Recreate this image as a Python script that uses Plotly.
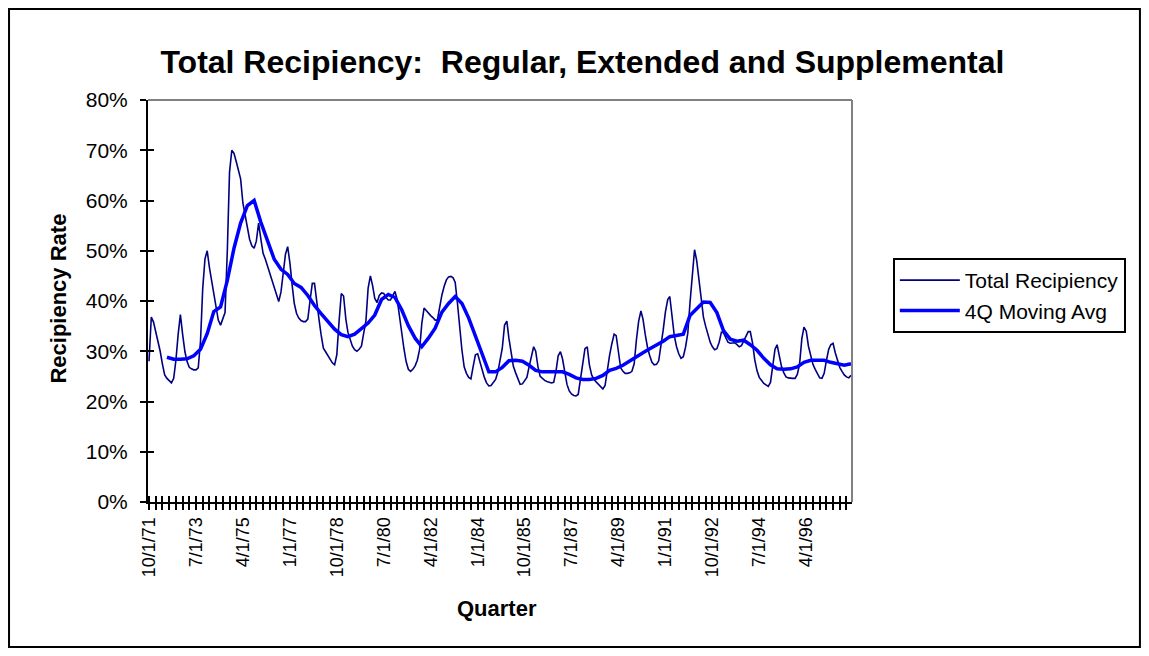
import pandas as pd
import plotly.graph_objects as go

# Monthly total recipiency rate (%), starting Oct 1971
total = [
    28.0, 36.8, 35.8, 34.0, 32.0, 30.0, 27.4, 25.3, 24.6, 24.1, 23.7, 24.6,
    28.2, 33.4, 37.3, 33.3, 29.9, 28.0, 26.8, 26.5, 26.3, 26.3, 26.7, 32.0,
    42.5, 48.4, 50.0, 46.6, 43.8, 41.5, 38.8, 36.2, 35.2, 36.6, 37.7, 50.0,
    65.6, 70.0, 69.4, 67.7, 65.7, 64.3, 59.5, 57.0, 55.0, 52.3, 51.0, 50.5,
    51.9, 55.5, 52.4, 49.5, 48.3, 46.9, 45.4, 44.0, 42.6, 41.1, 39.9, 41.8,
    46.0, 49.3, 50.8, 47.5, 43.0, 39.5, 37.5, 36.6, 36.1, 35.9, 35.9, 36.4,
    40.0, 43.5, 43.5, 39.2, 36.3, 33.3, 30.6, 29.9, 29.2, 28.6, 27.7, 27.3,
    29.3, 36.0, 41.5, 41.0, 36.4, 33.8, 32.1, 31.0, 30.3, 30.0, 30.4, 31.0,
    33.5, 36.0, 42.5, 45.0, 43.0, 40.5, 39.7, 41.1, 41.6, 41.5, 40.7, 40.2,
    40.2, 41.1, 41.9, 40.2, 36.5, 33.3, 30.6, 28.0, 26.4, 26.0, 26.4, 27.1,
    28.2, 30.3, 35.5, 38.6, 38.0, 37.6, 37.1, 36.7, 36.2, 36.2, 38.8, 41.2,
    42.9, 44.2, 44.8, 44.9, 44.6, 43.7, 39.5, 34.5, 30.2, 26.9, 25.6, 24.8,
    24.5, 27.0, 29.3, 29.5, 27.9, 26.2, 24.8, 23.7, 23.1, 23.2, 23.7, 24.4,
    25.8, 27.9, 30.6, 35.2, 36.0, 32.6, 29.4, 27.0, 25.7, 24.5, 23.4, 23.5,
    24.1, 24.8, 26.9, 29.0, 30.9, 30.0, 26.9, 25.0, 24.5, 24.2, 24.0, 23.9,
    23.7, 23.8, 25.9, 29.1, 29.9, 28.5, 25.7, 23.4, 22.1, 21.5, 21.2, 21.1,
    21.4, 24.5, 28.1, 30.5, 30.9, 27.3, 25.3, 24.4, 23.9, 23.5, 23.0, 22.5,
    23.2, 26.4, 29.2, 31.5, 33.4, 33.1, 29.6, 26.7, 26.0, 25.6, 25.6, 25.7,
    26.0, 27.5, 32.2, 36.0, 38.0, 36.4, 33.3, 30.8, 29.1, 27.8, 27.3, 27.4,
    28.1, 30.8, 34.2, 37.9, 40.3, 40.9, 36.9, 33.1, 30.9, 29.5, 28.6, 28.9,
    30.8, 33.6, 39.6, 45.6, 50.2, 48.1, 44.2, 40.3, 36.8, 35.0, 33.3, 31.8,
    30.9, 30.3, 30.5, 31.8, 33.8, 33.7, 32.7, 31.8, 31.6, 31.6, 31.7, 31.3,
    30.9, 31.1, 32.1, 33.0, 33.9, 33.9, 31.6, 28.3, 26.1, 24.8, 24.2, 23.6,
    23.3, 23.0, 23.8, 26.8, 30.4, 31.3, 29.2, 26.9, 25.7, 24.9, 24.7, 24.6,
    24.6, 24.6, 25.4, 27.4, 32.5, 34.8, 34.0, 31.0, 28.9, 27.4, 26.4, 25.4,
    24.7, 24.6, 25.6, 28.2, 30.4, 31.3, 31.6, 29.7, 28.0, 26.8, 26.0, 25.3,
    24.9, 24.7, 25.2,
]

# 4Q moving average (%), read every third month starting Jun 1972
moving_avg = [
    28.8, 28.4, 28.4, 28.5, 29.1, 30.4, 33.5, 37.9, 38.8, 44.1,
    50.5, 55.5, 59.0, 60.0, 55.7, 51.9, 48.3, 46.3, 45.3, 43.5,
    42.7, 41.1, 39.1, 37.5, 35.9, 34.4, 33.3, 32.9, 33.4, 34.6,
    35.6, 37.2, 40.3, 41.3, 40.7, 38.3, 35.1, 32.6, 30.9, 32.6,
    34.6, 37.8, 39.5, 40.9, 39.5, 36.6, 33.2, 29.4, 25.9, 25.9,
    26.8, 28.1, 28.2, 28.0, 27.2, 26.2, 25.9, 25.9, 25.9, 25.9,
    25.4, 24.7, 24.4, 24.4, 24.6, 25.2, 26.2, 26.6, 27.2, 28.1,
    28.9, 29.7, 30.5, 31.2, 32.0, 32.9, 33.2, 33.4, 37.1, 38.4,
    39.8, 39.7, 37.7, 34.1, 32.4, 32.0, 32.2, 31.3, 30.2, 28.6,
    27.3, 26.5, 26.4, 26.5, 26.9, 27.8, 28.2, 28.2, 28.2, 27.8,
    27.5, 27.2, 27.5,
]

months = pd.date_range("1971-10-01", periods=len(total), freq="MS")
ma_dates = months[8::3][:len(moving_avg)]

# quarterly tick marks, a label every 7th quarter
quarter_ticks = list(months[::3])
tick_text = [f"{d.month}/{d.day}/{d:%y}" if k % 7 == 0 else "" for k, d in enumerate(quarter_ticks)]
y_ticks = list(range(0, 90, 10))
y_text = [f"{v}%" for v in y_ticks]

FONT = "Liberation Sans, Arial, sans-serif"
x_range = [months[0] - pd.Timedelta(days=14), months[-1] + pd.Timedelta(days=14)]

fig = go.Figure()
fig.add_trace(go.Scatter(x=months, y=total, mode="lines", name="Total Recipiency",
                         line=dict(color="#000080", width=1.6)))
fig.add_trace(go.Scatter(x=ma_dates, y=moving_avg, mode="lines", name="4Q Moving Avg",
                         line=dict(color="#0000FF", width=3.5)))
# helper trace so the overlay axes (inner half of the crossing ticks) get drawn
fig.add_trace(go.Scatter(x=[months[0]], y=[None], xaxis="x2", yaxis="y2",
                         showlegend=False, hoverinfo="skip"))

# the page body has an 8px margin; keep the figure inside the window
W, H = 1133, 640
fig.update_layout(
    width=W, height=H,
    margin=dict(l=140, r=289, t=92, b=146),
    paper_bgcolor="white", plot_bgcolor="white",
    font=dict(family=FONT, color="black", size=18),
    title=dict(text="<b>Total Recipiency:  Regular, Extended and Supplemental</b>",
               x=0.507, xanchor="center", y=1 - 54 / H, yanchor="middle",
               font=dict(size=32, family=FONT, color="black")),
    xaxis=dict(type="date", range=x_range, tickvals=quarter_ticks, ticktext=tick_text,
               tickangle=-90, ticks="outside", ticklen=6, tickwidth=2, tickcolor="black",
               showline=True, linecolor="black", linewidth=2, showgrid=False, zeroline=False,
               tickfont=dict(size=18)),
    yaxis=dict(range=[0, 80], tickvals=y_ticks, ticktext=y_text, ticks="outside",
               ticklen=6, tickwidth=2, tickcolor="black", showline=True, linecolor="black",
               linewidth=2, showgrid=False, zeroline=False, tickfont=dict(size=21),
               ticklabelstandoff=8),
    xaxis2=dict(type="date", overlaying="x", anchor="y2", side="bottom", range=x_range,
                tickvals=quarter_ticks, ticks="inside", ticklen=6, tickwidth=2,
                tickcolor="black", showticklabels=False, showline=False, showgrid=False,
                zeroline=False),
    yaxis2=dict(overlaying="y", anchor="x2", side="left", range=[0, 80], tickvals=y_ticks,
                ticks="inside", ticklen=6, tickwidth=2, tickcolor="black",
                showticklabels=False, showline=False, showgrid=False, zeroline=False),
    legend=dict(x=1.058, y=0.607, xanchor="left", yanchor="top", bgcolor="white",
                bordercolor="black", borderwidth=2, font=dict(size=21, family=FONT),
                itemwidth=60, tracegroupgap=0),
    showlegend=True,
)

fig.add_annotation(text="<b>Recipiency Rate</b>", xref="paper", yref="paper",
                   x=-0.127, y=0.505, xanchor="center", yanchor="middle", textangle=-90,
                   showarrow=False, font=dict(size=22, family=FONT))
fig.add_annotation(text="<b>Quarter</b>", xref="paper", yref="paper",
                   x=0.496, y=-0.264, xanchor="center", yanchor="middle",
                   showarrow=False, font=dict(size=22, family=FONT))

# gray plot-area border on top and right, black frame round the whole chart
fig.add_shape(type="line", xref="paper", yref="paper", x0=0, x1=1, y0=1, y1=1,
              line=dict(color="#808080", width=2))
fig.add_shape(type="line", xref="paper", yref="paper", x0=1, x1=1, y0=0, y1=1,
              line=dict(color="#808080", width=2))
fig.add_shape(type="rect", xref="paper", yref="paper", x0=-0.1974, x1=1.409,
              y0=-0.3607, y1=1.2264, line=dict(color="black", width=2))

fig.write_html("out.html")
